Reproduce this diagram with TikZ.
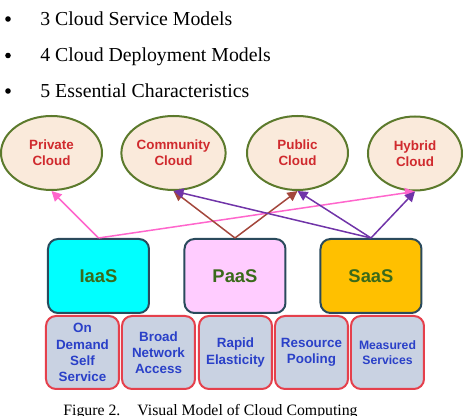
\documentclass[tikz,border=0pt]{standalone}
\usepackage{fontspec}
\setmainfont{Liberation Serif}
\newfontfamily\diagfont{Liberation Sans}
\usetikzlibrary{shapes.geometric, arrows.meta}

\definecolor{cloudfill}{HTML}{FAEADB}
\definecolor{cloudedge}{HTML}{5C7A2C}
\definecolor{cloudtext}{HTML}{D02A2E}
\definecolor{modeledge}{HTML}{2A4A5C}
\definecolor{modeltext}{HTML}{3A6A1A}
\definecolor{iaasfill}{HTML}{00FFFF}
\definecolor{paasfill}{HTML}{FFCCFF}
\definecolor{saasfill}{HTML}{FFC000}
\definecolor{traitfill}{HTML}{C9D2E2}
\definecolor{traitedge}{HTML}{E5404C}
\definecolor{traittext}{HTML}{2A40C8}
\definecolor{pinkline}{HTML}{FF66CC}
\definecolor{brownline}{HTML}{A3473C}
\definecolor{purpleline}{HTML}{7034A8}

\begin{document}
\begin{tikzpicture}[
    x=0.5pt, y=-0.5pt,
    listdot/.style={circle, fill=black, inner sep=0pt, minimum size=2.8pt},
    listtext/.style={anchor=base west, inner sep=0pt, font=\fontsize{9.9}{12}\selectfont},
    cloud/.style={ellipse, draw=cloudedge, line width=1pt, fill=cloudfill, minimum width=50.5pt, minimum height=37pt, inner sep=0pt, align=center, text=cloudtext, font=\diagfont\bfseries\fontsize{6.7}{7.8}\selectfont},
    model/.style={draw=modeledge, line width=1pt, rounded corners=5pt, minimum width=50.5pt, minimum height=37pt, text=modeltext, font=\diagfont\bfseries\fontsize{9.2}{11}\selectfont},
    trait/.style={draw=traitedge, line width=1pt, fill=traitfill, rounded corners=5pt, minimum width=36.5pt, minimum height=36.5pt, inner sep=0pt, align=center, text=traittext, font=\diagfont\bfseries\fontsize{6.7}{8.1}\selectfont},
    link/.style={line width=0.75pt, -{Triangle[length=5pt, width=5pt]}}
]
\useasboundingbox (0,0) rectangle (463,416);

% Bullet list
\foreach \i/\y/\txt in {1/25.5/3 Cloud Service Models, 2/62/4 Cloud Deployment Models, 3/97.5/5 Essential Characteristics} {
    \node[listdot] (dot\i) at (8,\y-6.5) {};
    \node[listtext] (item\i) at (40,\y) {\txt};
}

% Deployment models
\foreach \name/\x/\txt in {private/51.5/Private\\Cloud, community/173.5/Community\\Cloud, public/297.5/Public\\Cloud} {
    \node[cloud] (\name) at (\x,153) {\txt};
}
\node[cloud, minimum width=47pt] (hybrid) at (415,153.5) {Hybrid\\Cloud};

% Service models
\node[model, fill=iaasfill] (iaas) at (98.5,276) {IaaS};
\node[model, fill=paasfill] (paas) at (235,276) {PaaS};
\node[model, fill=saasfill] (saas) at (371,276) {SaaS};

% Essential characteristics
\foreach \i/\x/\txt in {1/82.5/On\\Demand\\Self\\Service, 2/158.5/Broad\\Network\\Access, 3/235.5/Rapid\\Elasticity, 4/311.5/Resource\\Pooling} {
    \node[trait] (trait\i) at (\x,352.5) {\txt};
}
\node[trait, font=\diagfont\bfseries\fontsize{6.1}{7.6}\selectfont] (trait5) at (387.5,352.5) {Measured\\Services};

% Links
\draw[link, pinkline] (iaas.north) -- (private.south);
\draw[link, pinkline] (iaas.north) -- (hybrid.south);
\draw[link, brownline] (paas.north) -- (community.south);
\draw[link, brownline] (paas.north) -- (public.south);
\draw[link, purpleline] (saas.north) -- (community.south);
\draw[link, purpleline] (saas.north) -- (public.south);
\draw[link, purpleline] (saas.north) -- (hybrid.south);

% Caption
\node[anchor=base, inner sep=0pt, font=\fontsize{7.9}{9}\selectfont] (caption) at (210.5,415.5) {Figure 2.\hspace{8.5pt}Visual Model of Cloud Computing};

\end{tikzpicture}
\end{document}
